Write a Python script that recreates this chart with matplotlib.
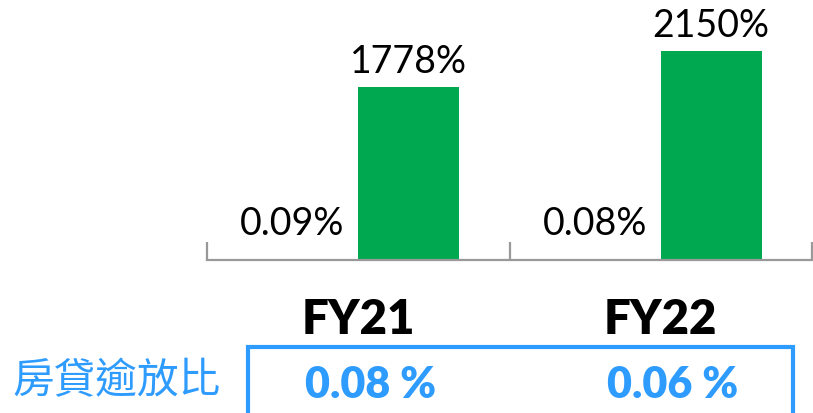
import matplotlib.pyplot as plt
import matplotlib.patches as patches
import numpy as np

# data
years = ['FY21', 'FY22']
npl_ratio = [0.09, 0.08]          # first series, too small to show as a bar
coverage = [1778, 2150]           # green bars
npl_labels = ['0.09%', '0.08%']
cov_labels = ['1778%', '2150%']
mortgage_label = '房貸逾放比'
mortgage_npl = ['0.08 %', '0.06 %']

green = '#00A84F'
blue = '#2E9BFF'
grey = '#999999'
font = ['Lato', 'DejaVu Sans']

W, H = 813, 414
fig = plt.figure(figsize=(W / 100, H / 100), dpi=100)

# axes placed in pixel terms
left, right, bottom = 207, 812, 414 - 261
ax = fig.add_axes([left / W, bottom / H, (right - left) / W, (H - bottom) / H])

x = np.arange(len(years))
bw = 1 / 3
b1 = ax.bar(x - bw / 2, npl_ratio, bw, color='none')
b2 = ax.bar(x + bw / 2, coverage, bw, color=green)

ax.set_xlim(-0.5, len(years) - 0.5)
ax.set_ylim(0, 261 / 0.0972)

for rect, lab in zip(b1, npl_labels):
    ax.annotate(lab, (rect.get_x() + rect.get_width() / 2, rect.get_height()),
                xytext=(-11, 14), textcoords='offset points', ha='center', va='bottom',
                fontsize=27, family=font, color='black')
for rect, lab in zip(b2, cov_labels):
    ax.annotate(lab, (rect.get_x() + rect.get_width() / 2, rect.get_height()),
                xytext=(0, 6), textcoords='offset points', ha='center', va='bottom',
                fontsize=27, family=font, color='black')

for s in ['top', 'right', 'left']:
    ax.spines[s].set_visible(False)
ax.spines['bottom'].set_color(grey)
ax.spines['bottom'].set_linewidth(1.6)
ax.set_yticks([])

# ticks at category borders, pointing up
ax.set_xticks(np.arange(len(years) + 1) - 0.5)
ax.set_xticklabels([])
ax.tick_params(axis='x', which='major', direction='in', length=13, width=1.6, color=grey)
# category names on minor ticks
ax.set_xticks(x, minor=True)
ax.set_xticklabels(years, minor=True, fontsize=34, fontweight='heavy', family=font)
ax.tick_params(axis='x', which='minor', length=0, pad=27)

# mortgage NPL box below
box = patches.Rectangle((248 / W, -0.05), (793 - 248) / W, (414 - 348) / H + 0.05,
                        transform=fig.transFigure, fill=False, edgecolor=blue,
                        linewidth=3, clip_on=False)
fig.add_artist(box)
fig.text(116 / W, 1 - 382 / H, mortgage_label, ha='center', va='center',
         fontsize=30, color=blue, fontweight='medium',
         family=['Noto Sans CJK TC', 'DejaVu Sans'])
for xi, val in zip(x, mortgage_npl):
    xp = ax.transData.transform((xi, 0))[0] / (W)
    fig.text(xp + 12 / W, 1 - 385 / H, val, ha='center', va='center',
             fontsize=31, fontweight='heavy', color=blue, family=font)

fig.savefig('out.png', dpi=100)
